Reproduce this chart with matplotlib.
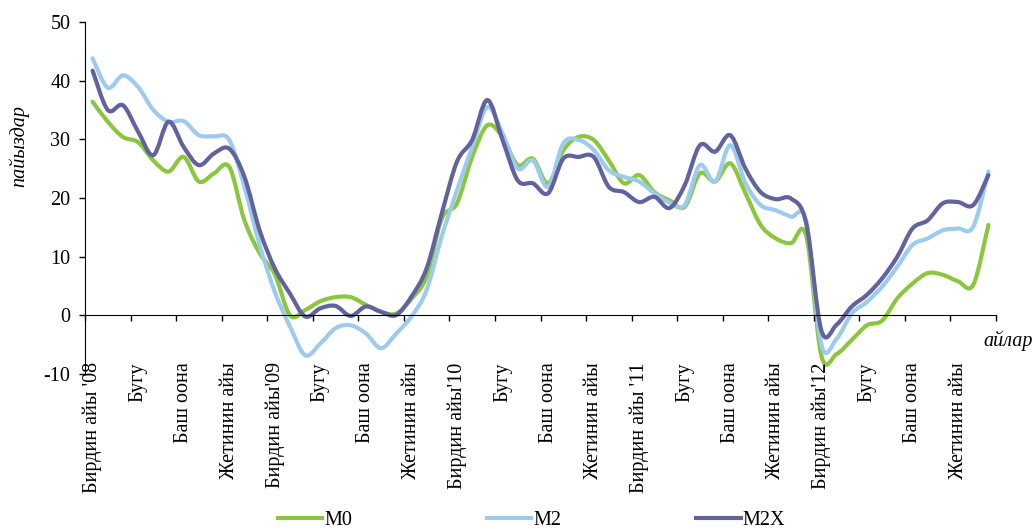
import matplotlib
matplotlib.use("Agg")
import matplotlib.pyplot as plt
import numpy as np
from matplotlib.path import Path
from matplotlib.patches import PathPatch
from matplotlib.lines import Line2D

plt.rcParams['font.family'] = ['Liberation Serif', 'DejaVu Serif']
plt.rcParams['axes.unicode_minus'] = False

quarter_labels = ["Бирдин айы '08", "Бугу", "Баш оона", "Жетинин айы",
                  "Бирдин айы'09", "Бугу", "Баш оона", "Жетинин айы",
                  "Бирдин айы'10", "Бугу", "Баш оона", "Жетинин айы",
                  "Бирдин айы '11", "Бугу", "Баш оона", "Жетинин айы",
                  "Бирдин айы'12", "Бугу", "Баш оона", "Жетинин айы"]

m0 = [36.4, 33.0, 30.4, 29.5, 26.4, 24.5, 27.0, 22.8, 24.2, 25.3,
      16.2, 10.6, 7.0, 0.0, 0.9, 2.4, 3.1, 3.1, 1.8, 0.6,
      0.3, 2.8, 6.6, 16.5, 19.1, 27.0, 32.4, 30.4, 25.6, 26.7,
      22.5, 28.1, 30.4, 29.9, 26.4, 22.5, 23.9, 21.0, 19.6, 18.5,
      24.2, 22.8, 25.9, 20.8, 15.4, 13.1, 12.3, 13.6, -6.9, -6.6,
      -4.2, -1.7, -0.9, 2.9, 5.4, 7.2, 6.9, 5.8, 5.2, 15.4]
m2 = [43.8, 38.8, 40.9, 38.9, 35.0, 33.0, 33.1, 30.7, 30.5, 29.9,
      21.9, 12.0, 4.0, -1.9, -6.8, -4.8, -2.2, -1.7, -3.1, -5.6,
      -3.1, -0.2, 4.3, 13.5, 21.3, 28.7, 35.5, 31.0, 25.0, 26.4,
      21.9, 29.3, 29.9, 28.2, 24.7, 23.6, 22.8, 20.8, 19.2, 18.8,
      25.6, 22.8, 29.0, 22.5, 18.8, 17.9, 16.8, 16.0, -5.0, -4.0,
      0.3, 2.3, 4.9, 8.3, 12.0, 13.1, 14.5, 14.8, 15.1, 24.5]
m2x = [41.7, 35.0, 35.8, 31.3, 27.3, 33.0, 28.7, 25.6, 27.6, 28.4,
       23.6, 14.5, 8.0, 3.7, -0.2, 1.2, 1.6, -0.1, 1.5, 0.6,
       0.05, 3.2, 8.0, 17.4, 26.2, 29.9, 36.7, 29.9, 23.0, 22.5,
       20.8, 26.7, 27.0, 27.0, 21.9, 21.0, 19.3, 20.2, 18.3, 22.2,
       29.0, 27.9, 30.7, 25.0, 21.0, 19.8, 19.9, 15.7, -2.6, -1.6,
       1.5, 3.5, 6.3, 10.0, 14.8, 16.2, 19.1, 19.3, 18.8, 23.9]

series = [("M0", m0, "#8CC63F"), ("M2", m2, "#9DCBEE"), ("M2X", m2x, "#62629E")]


def smooth_path(xs, ys):
    # bezier segments through every point, like excel's "smoothed line"
    pts = np.column_stack([xs, ys])
    n = len(pts)
    verts = [pts[0]]
    codes = [Path.MOVETO]
    for i in range(n - 1):
        p0 = pts[max(i - 1, 0)]
        p1 = pts[i]
        p2 = pts[i + 1]
        p3 = pts[min(i + 2, n - 1)]
        c1 = p1 + (p2 - p0) / 6.0
        c2 = p2 - (p3 - p1) / 6.0
        verts += [c1, c2, p2]
        codes += [Path.CURVE4] * 3
    return Path(verts, codes)


fig = plt.figure(figsize=(10.32, 5.30), dpi=100)
ax = fig.add_axes([85 / 1032, 1 - 374 / 530, (996 - 85) / 1032, 352 / 530])

x = np.arange(len(m0))
for name, vals, color in series:
    patch = PathPatch(smooth_path(x, vals), facecolor='none', edgecolor=color,
                      lw=3.0, capstyle='round', joinstyle='round')
    ax.add_patch(patch)

ax.set_xlim(-0.5, len(m0) - 0.5)
ax.set_ylim(-10, 50)
ax.set_yticks(range(-10, 51, 10))
ax.tick_params(axis='y', direction='out', length=4.5, width=1, labelsize=14.5, pad=6)

ax.spines['top'].set_visible(False)
ax.spines['right'].set_visible(False)
ax.spines['bottom'].set_position(('data', 0))
ax.set_xticks(np.arange(-0.5, len(m0), 3))
ax.set_xticklabels([])
ax.tick_params(axis='x', direction='out', length=4.5, width=1)

for k, lab in enumerate(quarter_labels):
    ax.text(3 * k, -8.0, lab, rotation=90, ha='center', va='top', fontsize=14.5)

fig.text(19 / 1032, 1 - 146 / 530, "пайыздар", rotation=90, style='italic',
         fontsize=14.5, ha='center', va='center')
fig.text(983 / 1032, 1 - 341 / 530, "айлар", style='italic', fontsize=14.5,
         ha='left', va='center')

handles = [Line2D([], [], color=c, lw=3.0) for _, _, c in series]
fig.legend(handles, [s[0] for s in series], loc='center', ncol=3,
           bbox_to_anchor=(0.515, 0.018), frameon=False, fontsize=14.5,
           handlelength=2.2, handletextpad=0.1, columnspacing=6.7)

fig.savefig("out.png", dpi=100)
